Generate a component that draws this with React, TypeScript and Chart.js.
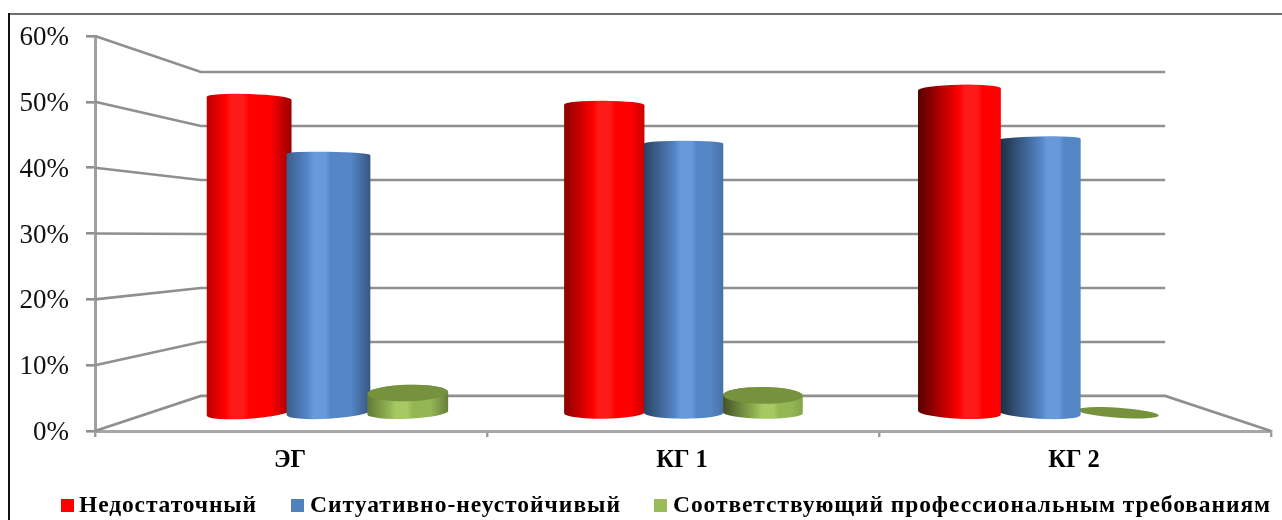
import React, { useEffect, useRef } from "react";
import { Chart, registerables } from "chart.js";

Chart.register(...registerables);

const categories = ["ЭГ", "КГ 1", "КГ 2"];
const seriesNames = [
  "Недостаточный",
  "Ситуативно-неустойчивый",
  "Соответствующий профессиональным требованиям",
];
const insufficient = [52.7, 51.6, 54.2];
const unstable = [43.3, 45.1, 45.8];
const professional = [3.3, 2.9, 0];
const tickPercents = [0, 10, 20, 30, 40, 50, 60];

const legendColors = ["#ff0000", "#4f81bd", "#9bbb59"];
const cylinderBases: number[][] = [
  [255, 0, 0],
  [84, 134, 198],
  [148, 183, 84],
];
const cylinderHighlights: number[][] = [
  [255, 26, 26],
  [104, 154, 218],
  [168, 200, 100],
];
const greenCap = "#76923c";
const gridColor = "#8f8f8f";
const serif = "'Liberation Serif', 'Times New Roman', serif";

// Depth ratios of the pseudo-3D box: front wall is 1, bars stand at barDepth, back wall at backDepth.
const barDepth = 0.906;
const backDepth = 0.82;
const horizonPercent = 29.6;

const legendSlots = [
  { box: 61, text: 79, width: 178 },
  { box: 291, text: 310, width: 311 },
  { box: 654, text: 673, width: 598 },
];

const rgb = (c: number[], f = 1) =>
  `rgb(${c.map((v) => Math.round(Math.min(255, v * f))).join(",")})`;

function drawCylinder(
  ctx: CanvasRenderingContext2D,
  series: number,
  cx: number,
  topY: number,
  baseY: number,
  rx: number,
  vx: number,
  vy: number,
  value: number
) {
  const t = (cx - vx) / 433;
  const baseTilt = Math.atan(((cx - vx) * (baseY - vy)) / 1.1e6);
  const baseRy = 6;
  if (value <= 0) {
    ctx.fillStyle = greenCap;
    ctx.beginPath();
    ctx.ellipse(cx, baseY, rx, baseRy - 1, baseTilt, 0, Math.PI * 2);
    ctx.fill();
    return;
  }
  const below = topY > vy;
  const topTilt = Math.atan(((cx - vx) * (topY - vy)) / 1.7e6);
  const topRy = below ? 0.052 * (topY - vy) : 0.032 * (vy - topY);

  const h = Math.max(0.3, Math.min(0.75, 0.53 + 0.17 * t));
  const left = 0.5 - 0.25 * t;
  const right = Math.min(1, 0.85 + 0.25 * t);
  const base = cylinderBases[series];
  const high = cylinderHighlights[series];
  const grad = ctx.createLinearGradient(cx - rx, 0, cx + rx, 0);
  grad.addColorStop(0, rgb(base, left));
  grad.addColorStop((h - 0.14) * 0.5, rgb(base, (left + 1) / 2));
  grad.addColorStop(h - 0.14, rgb(base, 1));
  grad.addColorStop(h - 0.07, rgb(high));
  grad.addColorStop(h + 0.07, rgb(high));
  grad.addColorStop(h + 0.14, rgb(base, 1));
  grad.addColorStop((h + 1.14) / 2, rgb(base, 1));
  grad.addColorStop(1, rgb(base, right));

  ctx.fillStyle = grad;
  ctx.beginPath();
  ctx.ellipse(cx, topY, rx, topRy, topTilt, Math.PI, Math.PI * 2);
  ctx.ellipse(cx, baseY, rx, baseRy, baseTilt, 0, Math.PI);
  ctx.closePath();
  ctx.fill();

  if (below) {
    ctx.fillStyle = greenCap;
    ctx.beginPath();
    ctx.ellipse(cx, topY, rx, topRy, topTilt, 0, Math.PI * 2);
    ctx.fill();
  }
}

const perspectivePlugin = {
  id: "perspectiveBox",
  beforeDraw(chart: any) {
    // Outer frame of the chart object: only its top and left edges fall inside the canvas.
    const { ctx, width, height } = chart;
    ctx.save();
    ctx.fillStyle = "#6e6e6e";
    ctx.fillRect(9, 13, width - 9, 2);
    ctx.fillStyle = "#111111";
    ctx.fillRect(8, 13, 2, height - 13);
    ctx.restore();
  },
  beforeDatasetsDraw(chart: any) {
    const { ctx, chartArea, scales } = chart;
    const yScale = scales.y;
    const vx = (chartArea.left + chartArea.right) / 2;
    const vy = yScale.getPixelForValue(horizonPercent);
    const px = (x: number, k: number) => vx + (x - vx) * k;
    const py = (y: number, k: number) => vy + (y - vy) * k;

    ctx.save();
    ctx.strokeStyle = gridColor;
    ctx.lineWidth = 2.6;
    ctx.lineJoin = "miter";
    for (const tick of tickPercents) {
      const y = yScale.getPixelForValue(tick);
      ctx.beginPath();
      ctx.moveTo(chartArea.left, y);
      ctx.lineTo(px(chartArea.left, backDepth), py(y, backDepth));
      ctx.lineTo(px(chartArea.right, backDepth), py(y, backDepth));
      if (tick === 0) ctx.lineTo(chartArea.right, y);
      ctx.stroke();
    }

    const metas = [0, 1, 2].map((i) => chart.getDatasetMeta(i));
    categories.forEach((_, j) => {
      const order = j === categories.length - 1 ? [2, 1, 0] : [0, 1, 2];
      for (const i of order) {
        const el = metas[i].data[j];
        const value = chart.data.datasets[i].data[j];
        const cx = px(el.x, barDepth) + 0.6;
        const offset = Math.abs(cx - vx) / 433;
        const rx = (el.width * barDepth * (1 + (i === 2 ? 0.03 : 0.07) * offset)) / 2;
        drawCylinder(
          ctx,
          i,
          cx,
          py(yScale.getPixelForValue(value), barDepth),
          py(yScale.getPixelForValue(0), barDepth),
          rx,
          vx,
          vy,
          value
        );
      }
    });
    ctx.restore();
  },
  beforeDatasetDraw() {
    // Cylinders replace the flat rectangles of the bar elements.
    return false;
  },
  afterDraw(chart: any) {
    const { ctx, data } = chart;
    ctx.save();
    ctx.font = `bold 23.5px ${serif}`;
    ctx.textBaseline = "alphabetic";
    data.datasets.forEach((ds: any, i: number) => {
      const slot = legendSlots[i];
      ctx.fillStyle = ds.backgroundColor;
      ctx.fillRect(slot.box, 499, 13, 13);
      ctx.letterSpacing = "0px";
      const natural = ctx.measureText(ds.label).width;
      ctx.letterSpacing = `${(slot.width - natural) / ds.label.length}px`;
      ctx.fillStyle = "#000000";
      ctx.fillText(ds.label, slot.text, 512);
    });
    ctx.letterSpacing = "0px";
    ctx.restore();
  },
};

export default function App() {
  const ref = useRef<HTMLCanvasElement>(null);

  useEffect(() => {
    if (!ref.current) return;
    const seriesValues = [insufficient, unstable, professional];
    const chart = new Chart(ref.current, {
      type: "bar",
      data: {
        labels: categories,
        datasets: seriesNames.map((label, i) => ({
          label,
          data: seriesValues[i],
          backgroundColor: legendColors[i],
        })),
      },
      plugins: [perspectivePlugin],
      options: {
        responsive: false,
        animation: false,
        layout: { padding: { top: 36, right: 11, left: 0, bottom: 0 } },
        datasets: { bar: { categoryPercentage: 0.67, barPercentage: 1 } },
        plugins: {
          legend: { display: false },
          tooltip: { enabled: false },
          title: { display: false },
        },
        scales: {
          x: {
            afterFit: (s: any) => {
              s.height = 89;
            },
            border: { color: "#a6a6a6", width: 3 },
            grid: {
              drawOnChartArea: false,
              drawTicks: true,
              tickLength: 6,
              color: "#9a9a9a",
              lineWidth: 2.4,
            },
            ticks: {
              color: "#000000",
              padding: 9,
              labelOffset: -1,
              font: { family: serif, size: 24.5, weight: "bold" },
            },
          },
          y: {
            min: 0,
            max: 60,
            afterFit: (s: any) => {
              s.width = 95;
            },
            border: { color: "#a0a0a0", width: 3 },
            grid: {
              drawOnChartArea: false,
              drawTicks: true,
              tickLength: 9,
              color: "#8f8f8f",
              lineWidth: 2.6,
            },
            ticks: {
              stepSize: 10,
              padding: 17,
              labelOffset: 2,
              color: "#111111",
              font: { family: serif, size: 27 },
              callback: (v: any) => `${v}%`,
            },
          },
        },
      },
    } as any);
    return () => chart.destroy();
  }, []);

  return (
    <div style={{ position: "fixed", left: 0, top: 0, width: 1282, height: 520, background: "#ffffff" }}>
      <canvas ref={ref} width={1282} height={520} style={{ display: "block" }} />
    </div>
  );
}
